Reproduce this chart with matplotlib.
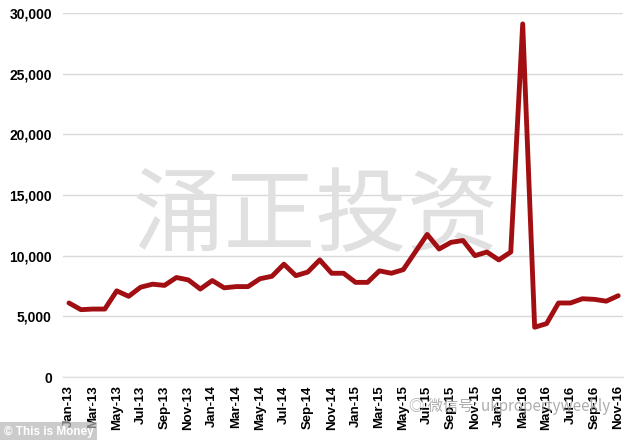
import matplotlib
matplotlib.use("Agg")
import matplotlib.pyplot as plt
from matplotlib.ticker import FuncFormatter

months = ["Jan-13","Feb-13","Mar-13","Apr-13","May-13","Jun-13","Jul-13","Aug-13","Sep-13","Oct-13","Nov-13","Dec-13",
          "Jan-14","Feb-14","Mar-14","Apr-14","May-14","Jun-14","Jul-14","Aug-14","Sep-14","Oct-14","Nov-14","Dec-14",
          "Jan-15","Feb-15","Mar-15","Apr-15","May-15","Jun-15","Jul-15","Aug-15","Sep-15","Oct-15","Nov-15","Dec-15",
          "Jan-16","Feb-16","Mar-16","Apr-16","May-16","Jun-16","Jul-16","Aug-16","Sep-16","Oct-16","Nov-16"]
values = [6100, 5550, 5600, 5600, 7100, 6650, 7400, 7650, 7550, 8200, 8000, 7250,
          7950, 7350, 7450, 7450, 8100, 8300, 9300, 8350, 8650, 9650, 8550, 8550,
          7800, 7800, 8750, 8550, 8850, 10300, 11750, 10550, 11100, 11250, 10000, 10300,
          9650, 10300, 29100, 4100, 4400, 6100, 6100, 6450, 6400, 6250, 6700]
yticks = [0, 5000, 10000, 15000, 20000, 25000, 30000]

plt.rcParams['font.family'] = ['Liberation Sans', 'Noto Sans CJK SC', 'DejaVu Sans']

fig = plt.figure(figsize=(6.34, 4.40), dpi=100)
ax = fig.add_axes([63/634, 1-377/440, (623-63)/634, 364/440])

x = list(range(len(months)))
ax.set_ylim(0, 30000)
ax.set_xlim(-0.5, 46.4)
ax.set_yticks(yticks)
ax.yaxis.set_major_formatter(FuncFormatter(lambda v, p: f"{int(v):,}"))
ax.grid(axis='y', color='#d9d9d9', linewidth=1.0)
ax.set_axisbelow(True)

# watermark
ax.text(0.452, 0.437, "涌正投资", transform=ax.transAxes, ha='center', va='center',
        fontsize=66, color='#e0e0e0', family=['Noto Sans CJK SC'], fontweight='light', zorder=1)

ax.plot(x, values, color='#a20f12', linewidth=3.5, solid_joinstyle='round', solid_capstyle='round', zorder=3)

ax.set_xticks(x[::2])
ax.set_xticklabels(months[::2], rotation=90, fontsize=9.5, fontweight='bold')
for lab in ax.get_yticklabels():
    lab.set_fontsize(10)
    lab.set_fontweight('bold')
ax.tick_params(axis='both', length=0)
ax.tick_params(axis='y', pad=8)
ax.tick_params(axis='x', pad=6)
for s in ['top', 'right', 'left']:
    ax.spines[s].set_visible(False)
ax.spines['bottom'].set_color('#e0e0e0')
ax.spines['bottom'].set_linewidth(1.0)

# source box bottom-left
fig.text(0.006, 0.012, "© This is Money", fontsize=8.5, color='white', fontweight='bold',
         bbox=dict(boxstyle='square,pad=0.3', facecolor='#b5b5b5', edgecolor='none', alpha=0.7))
# wechat watermark bottom-right
fig.text(0.645, 0.065, "◎ 微信号: ukpropertyweekly", fontsize=11, color='#9a9a9a', alpha=0.8,
         family=['Noto Sans CJK SC', 'DejaVu Sans'])

fig.savefig("out.png", dpi=100)
